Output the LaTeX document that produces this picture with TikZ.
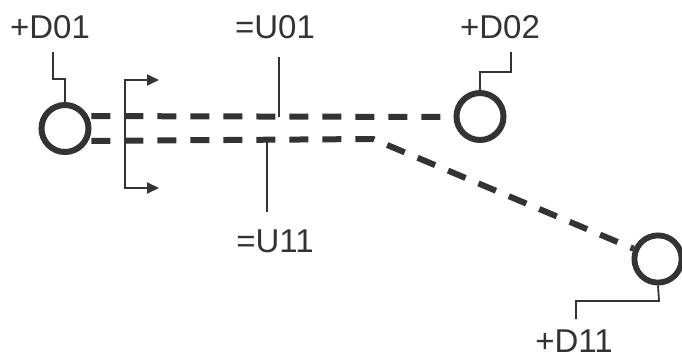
\documentclass[tikz,border=0pt]{standalone}
\usepackage{fontspec}
\setmainfont{Liberation Sans}
\usetikzlibrary{arrows.meta}
\definecolor{ink}{HTML}{333333}
\begin{document}
\begin{tikzpicture}[x=1pt,y=1pt,
  every node/.style={text=ink},
  term/.style={circle,draw=ink,line width=6pt,minimum size=47pt,inner sep=0pt},
  wire/.style={draw=ink,line width=6pt,dash pattern=on 19pt off 14pt,dash phase=-3pt},
  leader/.style={draw=ink,line width=1.8pt},
  tag/.style={font=\fontsize{33}{40}\selectfont,inner sep=0pt,anchor=base},
  dirarrow/.style={draw=ink,line width=1.8pt,{Triangle[length=12pt,width=11pt]}-{Triangle[length=12pt,width=11pt]}}]
\useasboundingbox (0,0) rectangle (682,360);

% terminals
\node[term] (D01) at (65,231.5) {};
\node[term] (D02) at (480,243.5) {};
\node[term] (D11) at (658,101) {};

% cables
\coordinate (bend) at (373,221);
\path[wire] (D01.28) -- (D02.west |- 0,243);
\path[wire] (D01.-28) -- (bend) -- (D11);
\fill[white] (D11) circle (20.5pt);

% direction marker
\coordinate (arT) at (159,280);
\coordinate (arTc) at (125,280);
\coordinate (arBc) at (125,172);
\coordinate (arB) at (159,172);
\path[dirarrow] (arT) -- (arTc) -- (arBc) -- (arB);

% labels
\node[tag] (lD01) at (50,322) {+D01};
\node[tag] (lU01) at (275,322) {=U01};
\node[tag] (lD02) at (500,322) {+D02};
\node[tag] (lU11) at (275,108) {=U11};
\node[tag] (lD11) at (574,8) {+D11};

% leader lines
\coordinate (u01a) at (279,243);
\coordinate (u01b) at (279,303);
\coordinate (u11a) at (267,221);
\coordinate (u11b) at (267,148);
\path[leader] (D01.north) -- (65,281) -- (53,281) -- (53,308);
\path[leader] (u01a) -- (u01b);
\path[leader] (u11a) -- (u11b);
\path[leader] (D02.north) -- (480,288) -- (511,288) -- (511,308);
\path[leader] (D11.south) -- (659,59) -- (576,59) -- (576,41);
\end{tikzpicture}
\end{document}
